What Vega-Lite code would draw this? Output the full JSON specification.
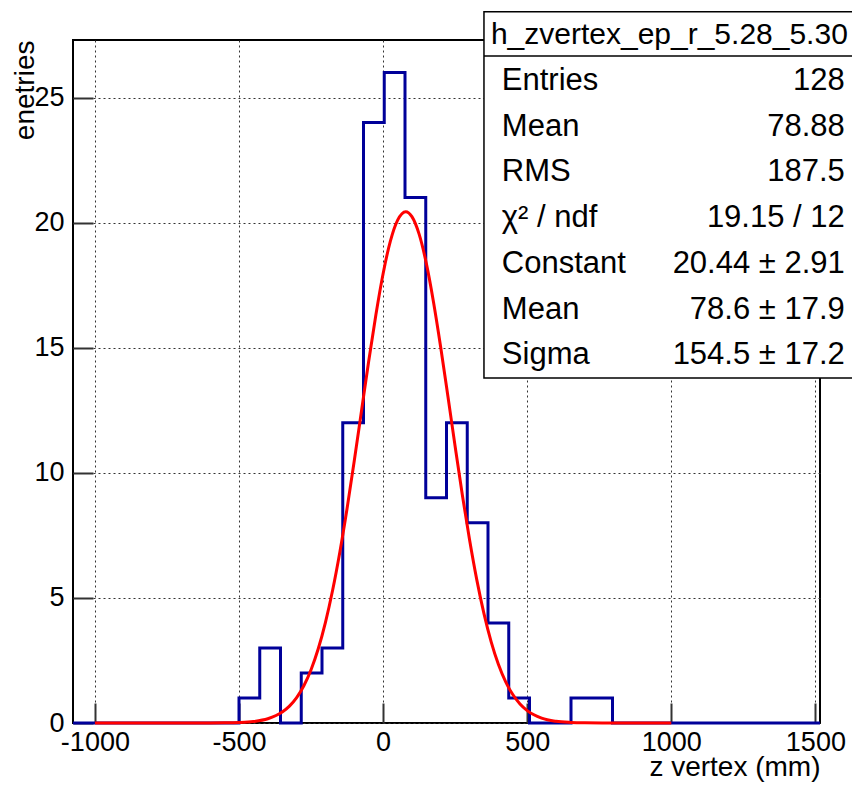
{
  "$schema": "https://vega.github.io/schema/vega-lite/v6.json",
  "width": 747,
  "height": 683,
  "autosize": {"type": "none"},
  "padding": {"left": 73, "top": 40, "right": 32, "bottom": 63},
  "background": "white",
  "config": {
    "view": {"stroke": "black", "strokeWidth": 2},
    "font": "Liberation Sans",
    "axis": {
      "labelFont": "Liberation Sans",
      "titleFont": "Liberation Sans",
      "labelColor": "black",
      "titleColor": "black",
      "domain": false,
      "titleFontWeight": "normal",
      "labelFontSize": 27,
      "titleFontSize": 28
    }
  },
  "datasets": {
    "hist": [
      {"z": -1076, "n": 0}, {"z": -1004, "n": 0}, {"z": -932, "n": 0}, {"z": -860, "n": 0},
      {"z": -788, "n": 0}, {"z": -716, "n": 0}, {"z": -644, "n": 0}, {"z": -572, "n": 0},
      {"z": -500, "n": 1}, {"z": -428, "n": 3}, {"z": -356, "n": 0}, {"z": -284, "n": 2},
      {"z": -212, "n": 3}, {"z": -140, "n": 12}, {"z": -68, "n": 24}, {"z": 4, "n": 26},
      {"z": 76, "n": 21}, {"z": 148, "n": 9}, {"z": 220, "n": 12}, {"z": 292, "n": 8},
      {"z": 364, "n": 4}, {"z": 436, "n": 1}, {"z": 508, "n": 0}, {"z": 580, "n": 0},
      {"z": 652, "n": 1}, {"z": 724, "n": 1}, {"z": 796, "n": 0}, {"z": 868, "n": 0},
      {"z": 940, "n": 0}, {"z": 1012, "n": 0}, {"z": 1084, "n": 0}, {"z": 1156, "n": 0},
      {"z": 1228, "n": 0}, {"z": 1300, "n": 0}, {"z": 1372, "n": 0}, {"z": 1444, "n": 0},
      {"z": 1516, "n": 0}
    ],
    "gauss": [
      {"z": -1000, "f": 0}, {"z": -800, "f": 0.0000}, {"z": -600, "f": 0.0013}, {"z": -550, "f": 0.0052},
      {"z": -500, "f": 0.0184}, {"z": -450, "f": 0.0587}, {"z": -400, "f": 0.169}, {"z": -350, "f": 0.436},
      {"z": -325, "f": 0.674}, {"z": -300, "f": 1.016}, {"z": -275, "f": 1.489}, {"z": -250, "f": 2.130},
      {"z": -225, "f": 2.966}, {"z": -200, "f": 4.023}, {"z": -175, "f": 5.315}, {"z": -150, "f": 6.839},
      {"z": -125, "f": 8.577}, {"z": -100, "f": 10.48}, {"z": -75, "f": 12.47}, {"z": -50, "f": 14.46},
      {"z": -25, "f": 16.32}, {"z": 0, "f": 17.96}, {"z": 25, "f": 19.25}, {"z": 50, "f": 20.09},
      {"z": 78.6, "f": 20.44}, {"z": 100, "f": 20.24}, {"z": 125, "f": 19.54}, {"z": 150, "f": 18.37},
      {"z": 175, "f": 16.82}, {"z": 200, "f": 15.01}, {"z": 225, "f": 13.05}, {"z": 250, "f": 11.05},
      {"z": 275, "f": 9.110}, {"z": 300, "f": 7.322}, {"z": 325, "f": 5.731}, {"z": 350, "f": 4.370},
      {"z": 375, "f": 3.246}, {"z": 400, "f": 2.349}, {"z": 425, "f": 1.655}, {"z": 450, "f": 1.137},
      {"z": 475, "f": 0.760}, {"z": 500, "f": 0.496}, {"z": 550, "f": 0.1945}, {"z": 600, "f": 0.0687},
      {"z": 650, "f": 0.0219}, {"z": 700, "f": 0.0063}, {"z": 800, "f": 0.0002}, {"z": 1000, "f": 0}
    ]
  },
  "resolve": {"scale": {"y": "independent"}, "axis": {"x": "independent", "y": "independent"}},
  "layer": [
    {
      "data": {"name": "hist"},
      "mark": {"type": "line", "interpolate": "step-after", "color": "#000099", "strokeWidth": 3},
      "encoding": {
        "x": {
          "field": "z", "type": "quantitative",
          "scale": {"domain": [-1076, 1516], "nice": false, "zero": false},
          "axis": {
            "orient": "bottom",
            "values": [-1000, -500, 0, 500, 1000, 1500],
            "labelExpr": "'' + datum.value",
            "ticks": false,
            "labelPadding": 6,
            "grid": true,
            "gridDash": [2, 3],
            "gridColor": "#333333",
            "gridWidth": 1,
            "labelFlush": false,
            "title": "z vertex (mm)",
            "titleAnchor": "end",
            "titlePadding": -2
          }
        },
        "y": {
          "field": "n", "type": "quantitative",
          "scale": {"domain": [0, 27.3], "nice": false},
          "axis": {
            "orient": "left",
            "values": [0, 5, 10, 15, 20, 25],
            "ticks": false,
            "labelPadding": 9,
            "grid": true,
            "gridDash": [2, 3],
            "gridColor": "#333333",
            "gridWidth": 1,
            "title": "enetries",
            "titleAnchor": "end",
            "titlePadding": -6
          }
        }
      }
    },
    {
      "data": {"name": "gauss"},
      "mark": {"type": "line", "interpolate": "monotone", "color": "#ff0000", "strokeWidth": 3},
      "encoding": {
        "x": {
          "field": "z", "type": "quantitative",
          "scale": {"domain": [-1076, 1516], "nice": false, "zero": false},
          "axis": {
            "orient": "bottom",
            "values": [-1000, -500, 0, 500, 1000, 1500],
            "offset": -20,
            "ticks": true,
            "tickSize": 20,
            "tickColor": "#333333",
            "tickWidth": 2,
            "labels": false,
            "grid": false,
            "title": null
          }
        },
        "y": {
          "field": "f", "type": "quantitative",
          "scale": {"domain": [0, 27.3], "nice": false},
          "axis": {
            "orient": "left",
            "values": [0, 5, 10, 15, 20, 25],
            "offset": -20,
            "ticks": true,
            "tickSize": 20,
            "tickColor": "#333333",
            "tickWidth": 2,
            "labels": false,
            "grid": false,
            "title": null
          }
        }
      }
    },
    {
      "layer": [
        {
          "data": {"values": [{}]},
          "mark": {"type": "rect", "fill": "white", "stroke": "black", "strokeWidth": 1.5},
          "encoding": {
            "x": {"datum": 350, "type": "quantitative", "scale": {"domain": [-1076, 1516], "nice": false, "zero": false}, "axis": null},
            "x2": {"datum": 1700},
            "y": {"datum": -0.52, "type": "quantitative", "scale": {"domain": [0.1, 15.05], "nice": false, "zero": false, "reverse": true}, "axis": null},
            "y2": {"datum": 7.5}
          }
        },
        {
          "data": {"values": [{}]},
          "mark": {"type": "rule", "color": "black", "strokeWidth": 1.5},
          "encoding": {
            "x": {"datum": 350, "type": "quantitative", "axis": null},
            "x2": {"datum": 1700},
            "y": {"datum": 0.45, "type": "quantitative", "axis": null}
          }
        },
        {
          "data": {"values": [{"row": 0, "title": "h_zvertex_ep_r_5.28_5.30"}]},
          "mark": {"type": "text", "align": "left", "baseline": "middle", "fontSize": 30, "font": "Liberation Sans", "color": "black"},
          "encoding": {
            "x": {"datum": 374, "type": "quantitative", "axis": null},
            "y": {"field": "row", "type": "quantitative", "axis": null},
            "text": {"field": "title"}
          }
        },
        {
          "data": {"values": [
            {"row": 1, "label": "Entries", "value": "128"},
            {"row": 2, "label": "Mean", "value": "78.88"},
            {"row": 3, "label": "RMS", "value": "187.5"},
            {"row": 4, "label": "χ² / ndf", "value": "19.15 / 12"},
            {"row": 5, "label": "Constant", "value": "20.44 ± 2.91"},
            {"row": 6, "label": "Mean", "value": "78.6 ± 17.9"},
            {"row": 7, "label": "Sigma", "value": "154.5 ± 17.2"}
          ]},
          "layer": [
            {
              "mark": {"type": "text", "align": "left", "baseline": "middle", "fontSize": 31, "font": "Liberation Sans", "color": "black"},
              "encoding": {
                "x": {"datum": 412, "type": "quantitative", "axis": null},
                "y": {"field": "row", "type": "quantitative", "axis": null},
                "text": {"field": "label"}
              }
            },
            {
              "mark": {"type": "text", "align": "right", "baseline": "middle", "fontSize": 31, "font": "Liberation Sans", "color": "black"},
              "encoding": {
                "x": {"datum": 1602, "type": "quantitative", "axis": null},
                "y": {"field": "row", "type": "quantitative", "axis": null},
                "text": {"field": "value"}
              }
            }
          ]
        }
      ]
    }
  ]
}
